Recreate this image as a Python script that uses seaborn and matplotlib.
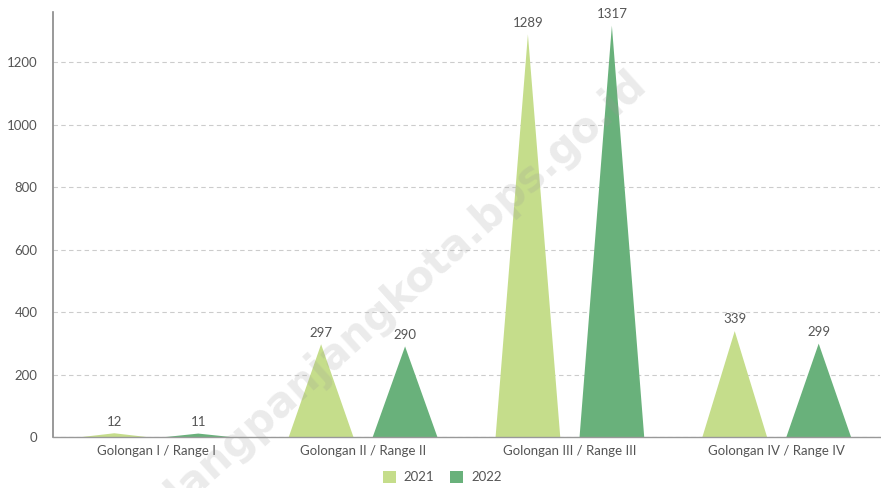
import pandas as pd
import matplotlib.pyplot as plt
import seaborn as sns
from matplotlib.patches import Polygon, Patch

# data
categories = ['Golongan I / Range I', 'Golongan II / Range II',
              'Golongan III / Range III', 'Golongan IV / Range IV']
years = ['2021', '2022']
values_2021 = [12, 297, 1289, 339]
values_2022 = [11, 290, 1317, 299]
colors = ['#c5dd8b', '#69b17b']

df = pd.DataFrame({
    'Golongan': categories * 2,
    'Tahun': [years[0]] * 4 + [years[1]] * 4,
    'Jumlah': values_2021 + values_2022,
})

sns.set_theme(style='white')
plt.rcParams['font.family'] = ['Lato', 'DejaVu Sans']

fig = plt.figure(figsize=(8.81, 4.88), dpi=100)
ax = fig.add_axes([0.060, 0.1045, 0.939, 0.8705])

sns.barplot(data=df, x='Golongan', y='Jumlah', hue='Tahun', palette=colors,
            saturation=1, width=0.812, gap=0.23, ax=ax, legend=False,
            zorder=2)

# ganti batang persegi menjadi segitiga
for cont in ax.containers:
    for bar in cont:
        x0, w, h = bar.get_x(), bar.get_width(), bar.get_height()
        tri = Polygon([(x0, 0), (x0 + w / 2, h), (x0 + w, 0)], closed=True,
                      facecolor=bar.get_facecolor(), edgecolor='none', zorder=2)
        ax.add_patch(tri)
        ax.text(x0 + w / 2, h + 18, f'{h:.0f}', ha='center', va='bottom',
                fontsize=9.5, color='#555555')
        bar.set_visible(False)

ax.set_xlim(-0.5, 3.5)
ax.set_ylim(0, 1360)
ax.set_yticks(range(0, 1201, 200))
ax.set_xlabel('')
ax.set_ylabel('')
ax.yaxis.grid(True, linestyle=(0, (4, 3)), color='#cccccc', linewidth=0.8)
ax.set_axisbelow(True)
ax.tick_params(axis='both', length=0, labelsize=9.5, labelcolor='#555555')
ax.tick_params(axis='y', pad=11)
ax.tick_params(axis='x', pad=6)
for s in ['top', 'right']:
    ax.spines[s].set_visible(False)
ax.spines['left'].set_color('#888888')
ax.spines['left'].set_linewidth(1.2)
ax.spines['bottom'].set_color('#999999')
ax.spines['bottom'].set_linewidth(1.0)

handles = [Patch(facecolor=c, edgecolor='none') for c in colors]
fig.legend(handles, years, loc='center', bbox_to_anchor=(0.502, 0.022), ncol=2,
           frameon=False, fontsize=9.5, labelcolor='#555555', handlelength=1.0,
           handleheight=1.0, columnspacing=1.2, handletextpad=0.6)

# watermark
fig.text(0.43, 0.36, 'padangpanjangkota.bps.go.id', rotation=42,
         ha='center', va='center', fontsize=30, fontweight='bold',
         color='#999999', alpha=0.2, zorder=10, family=['DejaVu Sans'])

plt.savefig('out.png', dpi=100)
plt.close()
